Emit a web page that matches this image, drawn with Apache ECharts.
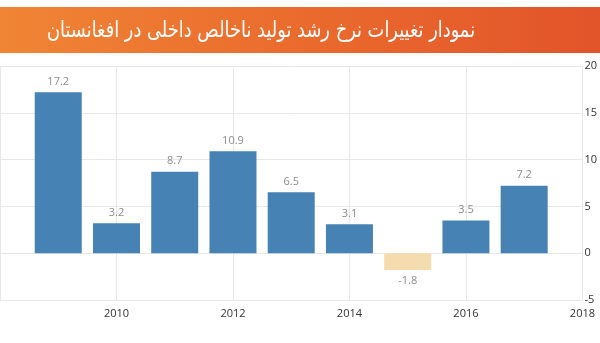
<!DOCTYPE html>
<html>
<head>
<meta charset="utf-8">
<style>
  html, body { margin: 0; padding: 0; background: #fff; }
  #chart { width: 600px; height: 343px; }
</style>
<script src="https://cdn.jsdelivr.net/npm/echarts@6/dist/echarts.min.js"></script>
</head>
<body>
<div id="chart"></div>
<script>
// Annual GDP growth rate of Afghanistan (%)
const years = [2009, 2010, 2011, 2012, 2013, 2014, 2015, 2016, 2017];
const growth = [17.2, 3.2, 8.7, 10.9, 6.5, 3.1, -1.8, 3.5, 7.2];
const yTicks = [-5, 0, 5, 10, 15, 20];
const xTicks = [2010, 2012, 2014, 2016, 2018];
const titleText = 'نمودار تغییرات نرخ رشد تولید ناخالص داخلی در افغانستان';

const chart = echarts.init(document.getElementById('chart'), null, { renderer: 'canvas' });

const barData = years.map((y, i) => ({
  value: [y, growth[i]],
  itemStyle: { color: growth[i] < 0 ? '#f5dcae' : '#4682b4' },
  label: { position: growth[i] < 0 ? 'bottom' : 'top' }
}));

chart.setOption({
  animation: false,
  backgroundColor: '#ffffff',
  graphic: [
    {
      type: 'rect',
      shape: { x: 0, y: 7, width: 600, height: 46 },
      style: {
        fill: new echarts.graphic.LinearGradient(0, 0, 1, 0, [
          { offset: 0, color: '#f08535' },
          { offset: 0.5, color: '#ea6b2d' },
          { offset: 1, color: '#e2542a' }
        ])
      },
      z: 0
    },
    {
      // banner title, condensed horizontally
      type: 'text',
      x: 261,
      y: 31,
      scaleX: 0.81,
      style: {
        x: 0,
        y: 0,
        text: titleText,
        fill: '#ffffff',
        font: '22px "DejaVu Sans", sans-serif',
        align: 'center',
        verticalAlign: 'middle'
      },
      z: 1
    }
  ],
  grid: { left: -3, right: 15, top: 66, bottom: 43, containLabel: false },
  xAxis: {
    type: 'value',
    min: 2008,
    max: 2018,
    interval: 2,
    axisLine: { show: false },
    axisTick: { show: true, length: 3, lineStyle: { color: '#e6e6e6' } },
    splitLine: { show: true, lineStyle: { color: '#e8e8e8', width: 1 } },
    axisLabel: {
      showMinLabel: false,
      color: '#333',
      fontSize: 11,
      margin: 8,
      fontFamily: 'Open Sans, sans-serif',
      formatter: v => (xTicks.includes(v) ? String(v) : '')
    }
  },
  yAxis: {
    type: 'value',
    position: 'right',
    min: -5,
    max: 20,
    interval: 5,
    axisLine: { show: false },
    axisTick: { show: false },
    splitLine: { show: true, lineStyle: { color: '#e8e8e8', width: 1 } },
    axisLabel: {
      color: '#333',
      fontSize: 11,
      margin: 2,
      fontFamily: 'Open Sans, sans-serif',
      formatter: v => (yTicks.includes(v) ? String(v) : '')
    }
  },
  series: [
    {
      type: 'bar',
      data: barData,
      barWidth: 47,
      label: {
        show: true,
        color: '#8c8c8c',
        fontSize: 11,
        distance: 5,
        fontFamily: 'Open Sans, sans-serif',
        formatter: p => String(p.value[1])
      }
    }
  ]
});
</script>
</body>
</html>
